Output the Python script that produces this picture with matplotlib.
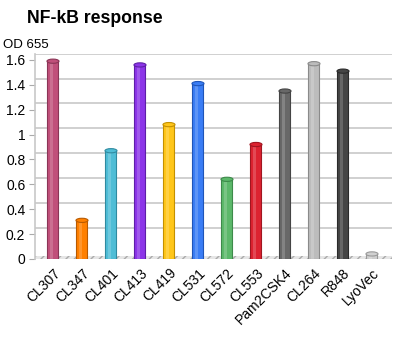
import matplotlib
matplotlib.use('Agg')
import matplotlib.pyplot as plt
import numpy as np
from matplotlib.path import Path

plt.rcParams['font.family'] = ['Liberation Sans', 'DejaVu Sans']

# values
samples = ['CL307', 'CL347', 'CL401', 'CL413', 'CL419', 'CL531',
           'CL572', 'CL553', 'Pam2CSK4', 'CL264', 'R848', 'LyoVec']
od655 = [1.59, 0.31, 0.87, 1.56, 1.08, 1.41, 0.64, 0.92, 1.35, 1.57, 1.51, 0.04]
colours = ['#c0507a', '#ff8000', '#4fbdd6', '#8c35e8', '#ffc61a', '#3a7df5',
           '#5cb86a', '#dc2230', '#686868', '#bcbcbc', '#454545', '#d0d0d0']
edges = ['#8a3556', '#b85a00', '#2f8aa0', '#5e1fa8', '#c49000', '#1f55b8',
         '#3d8a4a', '#a01520', '#444444', '#8a8a8a', '#2a2a2a', '#999999']
yticks = [0, 0.2, 0.4, 0.6, 0.8, 1, 1.2, 1.4, 1.6]
ytick_labels = ['0', '0.2', '0.4', '0.6', '0.8', '1', '1.2', '1.4', '1.6']

fig = plt.figure(figsize=(4, 3.38), dpi=100)
ax = fig.add_axes([0.0875, 0.234, 0.8925, 0.607])

xs = np.arange(len(samples))
w = 0.38

ax.set_xlim(-0.62, len(samples) - 0.31)
ax.set_ylim(0, 1.65)

# back grid lines
for t in yticks[1:]:
    ax.axhline(t + 0.05, color='#c8c8c8', lw=1.2, zorder=0)

# hatched floor
ax.axhspan(-0.02, 0.025, facecolor='#e6e6e6', edgecolor='#aaaaaa', hatch='////', lw=0, zorder=1)

# cylinders: body, highlight stripe and top cap
ax.bar(xs, od655, width=w, color=colours, edgecolor=edges, linewidth=0.8, zorder=3)
ax.bar(xs - w * 0.12, od655, width=w * 0.25, color='white', alpha=0.18, linewidth=0, zorder=4)
cap = Path.unit_circle()
cap = Path(cap.vertices * [1.0, 0.35], cap.codes)
ax.scatter(xs, od655, marker=cap, s=75, c=colours, edgecolors=edges, linewidths=0.8, zorder=5)

ax.set_yticks(yticks)
ax.set_yticklabels(ytick_labels, fontsize=10)
ax.set_xticks(xs)
ax.set_xticklabels(samples, rotation=45, ha='right', rotation_mode='anchor', fontsize=10)
ax.tick_params(axis='x', length=0, pad=5)
ax.tick_params(axis='y', length=4, color='#aaaaaa', pad=3)

for s in ['top', 'right', 'bottom']:
    ax.spines[s].set_visible(False)
ax.spines['left'].set_color('#c8c8c8')
ax.spines['left'].set_linewidth(1.2)

fig.text(0.068, 0.945, 'NF-kB response', fontsize=12.7, fontweight='bold', va='center')
fig.text(0.008, 0.868, 'OD 655', fontsize=9.5, va='center')

fig.savefig('out.png', dpi=100)
